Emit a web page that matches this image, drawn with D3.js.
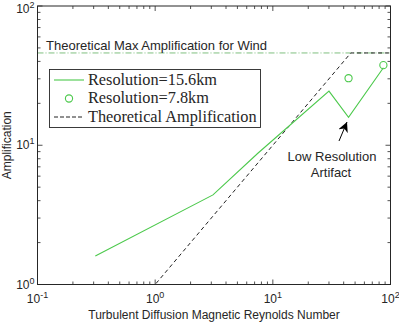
<!DOCTYPE html>
<html>
<head>
<meta charset="utf-8">
<script src="https://cdn.jsdelivr.net/npm/d3@7"></script>
<style>
  body { margin: 0; background: #fff; }
  text { font-family: "Liberation Sans", Arial, sans-serif; fill: #262626; }
</style>
</head>
<body>
<div id="chart"></div>
<script>
// data
const resX = [0.31, 3.1, 7.5, 30, 44, 87]
const resY = [1.6, 4.4, 8.8, 24.5, 15.9, 36]
const fineX = [44, 87]
const fineY = [30.3, 37.6]
const theoryX = [0.1, 1, 46, 100]
const theoryY = [1, 1, 46, 46]
const maxAmp = 46
const xTicks = [0.1, 1, 10, 100]
const yTicks = [1, 10, 100]
const legendNames = ["Resolution=15.6km", "Resolution=7.8km", "Theoretical Amplification"]

const W = 399, H = 322
const pL = 37.5, pR = 390.5, pT = 6, pB = 284.5
const axisCol = "#262626"
const green = "#4cc94c"

const svg = d3.select("#chart")
  .append("svg")
    .attr("width", W)
    .attr("height", H)

const x = d3.scaleLog().domain([0.1, 100]).range([pL, pR])
const y = d3.scaleLog().domain([1, 100]).range([pB, pT])

// minor + major ticks, drawn inward on all four sides
const minor = []
for (let e = -1; e < 2; e++) for (let k = 2; k < 10; k++) minor.push(k * Math.pow(10, e))
const minorY = []
for (let e = 0; e < 2; e++) for (let k = 2; k < 10; k++) minorY.push(k * Math.pow(10, e))

const ticks = svg.append("g").attr("stroke", axisCol).attr("stroke-width", 0.8)
minor.forEach(v => {
  ticks.append("line").attr("x1", x(v)).attr("x2", x(v)).attr("y1", pB).attr("y2", pB - 3)
  ticks.append("line").attr("x1", x(v)).attr("x2", x(v)).attr("y1", pT).attr("y2", pT + 3)
})
xTicks.forEach(v => {
  ticks.append("line").attr("x1", x(v)).attr("x2", x(v)).attr("y1", pB).attr("y2", pB - 5)
  ticks.append("line").attr("x1", x(v)).attr("x2", x(v)).attr("y1", pT).attr("y2", pT + 5)
})
minorY.forEach(v => {
  ticks.append("line").attr("y1", y(v)).attr("y2", y(v)).attr("x1", pL).attr("x2", pL + 3)
  ticks.append("line").attr("y1", y(v)).attr("y2", y(v)).attr("x1", pR).attr("x2", pR - 3)
})
yTicks.forEach(v => {
  ticks.append("line").attr("y1", y(v)).attr("y2", y(v)).attr("x1", pL).attr("x2", pL + 5)
  ticks.append("line").attr("y1", y(v)).attr("y2", y(v)).attr("x1", pR).attr("x2", pR - 5)
})

// tick labels as 10 with a superscript exponent
xTicks.forEach(v => {
  const t = svg.append("text")
    .attr("x", x(v)).attr("y", 303)
    .attr("text-anchor", "middle")
    .style("font-size", "12px")
  t.append("tspan").text("10")
  t.append("tspan").attr("dy", -5).style("font-size", "9px").text(Math.round(Math.log10(v)))
})
yTicks.forEach(v => {
  const t = svg.append("text")
    .attr("x", pL - 3).attr("y", Math.max(y(v) + 4, 13))
    .attr("text-anchor", "end")
    .style("font-size", "12px")
  t.append("tspan").text("10")
  t.append("tspan").attr("dy", -5).style("font-size", "9px").text(Math.round(Math.log10(v)))
})

// theoretical max line (dash-dot)
svg.append("line")
  .attr("x1", pL).attr("x2", pR)
  .attr("y1", y(maxAmp)).attr("y2", y(maxAmp))
  .attr("stroke", "#72b872")
  .attr("stroke-width", 0.9)
  .attr("stroke-dasharray", "6,2,1,2")

svg.append("text")
  .attr("x", 46).attr("y", 50)
  .style("font-size", "13px")
  .text("Theoretical Max Amplification for Wind")

// theoretical amplification (dashed)
const line = d3.line().x(d => x(d[0])).y(d => y(d[1]))
svg.append("path")
  .attr("d", line(theoryX.map((v, i) => [v, theoryY[i]])))
  .attr("fill", "none")
  .attr("stroke", "#222")
  .attr("stroke-width", 1)
  .attr("stroke-dasharray", "4,3")

// 15.6km line
svg.append("path")
  .attr("d", line(resX.map((v, i) => [v, resY[i]])))
  .attr("fill", "none")
  .attr("stroke", green)
  .attr("stroke-width", 1.1)

// 7.8km circles
svg.selectAll("circle.fine")
  .data(fineX.map((v, i) => [v, fineY[i]]))
  .join("circle")
    .attr("cx", d => x(d[0]))
    .attr("cy", d => y(d[1]))
    .attr("r", 3.6)
    .attr("fill", "none")
    .attr("stroke", green)
    .attr("stroke-width", 1.1)

// box
svg.append("rect")
  .attr("x", pL).attr("y", pT)
  .attr("width", pR - pL).attr("height", pB - pT)
  .attr("fill", "none")
  .attr("stroke", axisCol)
  .attr("stroke-width", 1)

// annotation + arrow
svg.append("defs").append("marker")
  .attr("id", "head")
  .attr("viewBox", "0 0 10 10")
  .attr("refX", 10).attr("refY", 5)
  .attr("markerWidth", 10).attr("markerHeight", 10)
  .attr("markerUnits", "userSpaceOnUse")
  .attr("orient", "auto")
  .append("path").attr("d", "M0,0 L10,5 L0,10 L3,5 Z").attr("fill", "#000")

svg.append("line")
  .attr("x1", 339).attr("y1", 141)
  .attr("x2", 347).attr("y2", 122)
  .attr("stroke", "#000")
  .attr("stroke-width", 1)
  .attr("marker-end", "url(#head)")

svg.append("text")
  .attr("x", 332).attr("y", 161)
  .attr("text-anchor", "middle")
  .style("font-size", "13px")
  .text("Low Resolution")
svg.append("text")
  .attr("x", 331).attr("y", 177)
  .attr("text-anchor", "middle")
  .style("font-size", "13px")
  .text("Artifact")

// legend
const lg = svg.append("g")
lg.append("rect")
  .attr("x", 49.5).attr("y", 69.5)
  .attr("width", 211).attr("height", 58)
  .attr("fill", "#fff")
  .attr("stroke", axisCol)
  .attr("stroke-width", 0.9)
const rowY = [80, 98.5, 117]
lg.append("line").attr("x1", 54).attr("x2", 84).attr("y1", rowY[0]).attr("y2", rowY[0])
  .attr("stroke", green).attr("stroke-width", 1.1)
lg.append("circle").attr("cx", 69).attr("cy", rowY[1]).attr("r", 3.6)
  .attr("fill", "none").attr("stroke", green).attr("stroke-width", 1.1)
lg.append("line").attr("x1", 54).attr("x2", 84).attr("y1", rowY[2]).attr("y2", rowY[2])
  .attr("stroke", "#222").attr("stroke-width", 1).attr("stroke-dasharray", "4,2")
legendNames.forEach((n, i) => {
  lg.append("text")
    .attr("x", 88).attr("y", rowY[i] + 4.5)
    .style("font-family", "'Liberation Serif', 'DejaVu Serif', serif")
    .style("font-size", "16.3px")
    .text(n)
})

// axis titles
svg.append("text")
  .attr("transform", `translate(11,${(pT + pB) / 2}) rotate(-90)`)
  .attr("text-anchor", "middle")
  .style("font-size", "12px")
  .text("Amplification")
svg.append("text")
  .attr("x", (pL + pR) / 2).attr("y", 319)
  .attr("text-anchor", "middle")
  .style("font-size", "12px")
  .text("Turbulent Diffusion Magnetic Reynolds Number")
</script>
</body>
</html>
